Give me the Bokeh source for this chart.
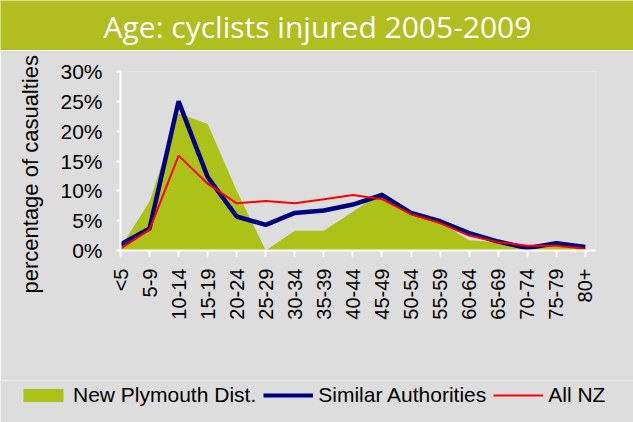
import math
from bokeh.plotting import figure
from bokeh.layouts import column, row
from bokeh.models import (Range1d, FixedTicker, Legend, LegendItem,
                          ColumnDataSource, Title)
from bokeh.core.properties import value
from bokeh.embed import file_html
from bokeh.resources import INLINE

# ---------------- data ----------------
title_text = "Age: cyclists injured 2005-2009"
y_axis_title = "percentage of casualties"
age_groups = ["<5", "5-9", "10-14", "15-19", "20-24", "25-29", "30-34", "35-39",
              "40-44", "45-49", "50-54", "55-59", "60-64", "65-69", "70-74",
              "75-79", "80+"]
new_plymouth = [0.5, 8.2, 23.0, 21.2, 10.0, 0.0, 3.3, 3.3, 6.5, 9.8, 6.0, 4.7,
                1.7, 1.4, 0.2, 1.0, 0.5]
similar_auth = [1.0, 3.7, 25.0, 12.3, 5.7, 4.3, 6.3, 6.7, 7.7, 9.3, 6.3, 4.9,
                2.9, 1.5, 0.4, 1.2, 0.6]
all_nz = [0.3, 3.5, 15.9, 11.2, 7.9, 8.3, 7.9, 8.6, 9.3, 8.6, 6.1, 4.6, 2.5,
          1.4, 0.8, 0.8, 0.3]
y_ticks = [0, 5, 10, 15, 20, 25, 30]
series_names = ["New Plymouth Dist.", "Similar Authorities", "All NZ"]

BG = "#dddddd"
GREEN_BAR = "#b1be20"
GREEN_AREA = "#acc218"
NAVY = "#000080"
RED = "#ff0000"
FONT = "Liberation Sans"
W = 633


def plain(width, height, fill, y_start=0):
    f = figure(width=width, height=height, x_range=Range1d(0, width),
               y_range=Range1d(y_start, y_start + height), output_backend="svg",
               toolbar_location=None, min_border=0, title=None,
               x_axis_location=None, y_axis_location=None,
               background_fill_color=fill, border_fill_color=fill,
               outline_line_color=None)
    f.grid.visible = False
    return f


# ---------------- title bar ----------------
tb = plain(W, 50, GREEN_BAR)
tb.text(x=[317], y=[24], text=[title_text], text_color="white",
        text_font=value("Open Sans"), text_font_size="30px",
        text_align="center", text_baseline="middle")

# ---------------- main chart ----------------
MH = 330
xs = list(range(len(age_groups)))
src = ColumnDataSource(dict(x=xs, np=new_plymouth, sa=similar_auth, nz=all_nz,
                            zero=[0] * len(xs)))

p = figure(width=W, height=MH, x_range=Range1d(0, 16.35),
           y_range=Range1d(0, 30), title=None,
           output_backend="svg", toolbar_location=None,
           background_fill_color=BG, border_fill_color=BG,
           outline_line_color=None,
           min_border_left=117, min_border_right=38,
           min_border_top=21, min_border_bottom=MH - 200)
p.grid.visible = False

p.varea(x="x", y1="zero", y2="np", source=src, fill_color=GREEN_AREA)
p.line(x="x", y="sa", source=src, line_color=NAVY, line_width=4.5)
p.line(x="x", y="nz", source=src, line_color=RED, line_width=2)

# x axis
p.xaxis.ticker = FixedTicker(ticks=xs)
p.xaxis.major_label_overrides = {i: lab_ for i, lab_ in enumerate(age_groups)}
p.xaxis.major_label_orientation = math.pi / 2
p.xaxis.major_label_text_font = FONT
p.xaxis.major_label_text_font_size = "20px"
p.xaxis.major_label_text_color = "black"
p.xaxis.major_label_standoff = 12
p.xaxis.axis_line_color = "white"
p.xaxis.axis_line_width = 2
p.xaxis.major_tick_line_color = "white"
p.xaxis.major_tick_line_width = 2
p.xaxis.major_tick_out = 6
p.xaxis.major_tick_in = 0
p.xaxis.minor_tick_line_color = None

# y axis
p.yaxis.ticker = FixedTicker(ticks=y_ticks)
p.yaxis.major_label_overrides = {t: f"{t}%" for t in y_ticks}
p.yaxis.major_label_text_font = FONT
p.yaxis.major_label_text_font_size = "21px"
p.yaxis.major_label_text_color = "black"
p.yaxis.major_label_standoff = 14
p.yaxis.axis_line_color = "white"
p.yaxis.axis_line_width = 2
p.yaxis.major_tick_line_color = "white"
p.yaxis.major_tick_line_width = 2
p.yaxis.major_tick_out = 4
p.yaxis.major_tick_in = 0
p.yaxis.minor_tick_line_color = None

# y axis title as a side title (allows an offset along the axis)
p.add_layout(Title(text=y_axis_title, align="left", offset=-43, standoff=30,
                   text_font=FONT, text_font_size="22px",
                   text_font_style="normal", text_color="black"), "left")

# ---------------- legend strip ----------------
# same series drawn off-view (y range far above the data) so only the legend shows
LH = 422 - 50 - MH
lg = plain(W, LH, BG, y_start=1000)
r_area = lg.varea(x="x", y1="zero", y2="np", source=src, fill_color=GREEN_AREA)
r_sa = lg.line(x="x", y="sa", source=src, line_color=NAVY, line_width=4)
r_nz = lg.line(x="x", y="nz", source=src, line_color=RED, line_width=2)
legend = Legend(items=[LegendItem(label=series_names[0], renderers=[r_area]),
                       LegendItem(label=series_names[1], renderers=[r_sa]),
                       LegendItem(label=series_names[2], renderers=[r_nz])],
                orientation="horizontal", location=(18, 15),
                padding=0, margin=0, spacing=7, label_standoff=5,
                glyph_width=50, glyph_height=16,
                label_text_font=FONT, label_text_font_size="21px",
                label_text_color="black",
                border_line_alpha=0, background_fill_alpha=0)
lg.add_layout(legend, "center")

layout = column(tb, row(p, spacing=0), lg, spacing=0)
open("out.html", "w").write(file_html(layout, INLINE))
